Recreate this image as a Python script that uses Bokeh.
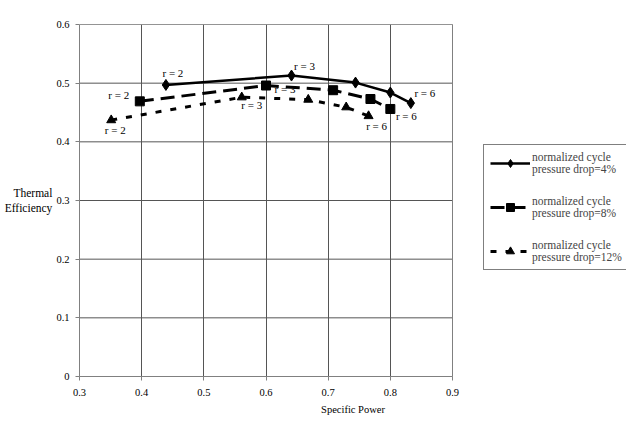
from bokeh.plotting import figure
from bokeh.models import (Range1d, FixedTicker, Label, Legend, LegendItem)
from bokeh.embed import file_html
from bokeh.resources import INLINE

# ---- data ----
sp_4 = [0.439, 0.641, 0.744, 0.800, 0.833]
eff_4 = [0.497, 0.513, 0.501, 0.484, 0.466]
sp_8 = [0.397, 0.600, 0.708, 0.768, 0.800]
eff_8 = [0.469, 0.496, 0.488, 0.473, 0.456]
sp_12 = [0.351, 0.561, 0.668, 0.729, 0.765]
eff_12 = [0.437, 0.476, 0.472, 0.459, 0.444]

series_names = ["normalized cycle\npressure drop=4%",
                "normalized cycle\npressure drop=8%",
                "normalized cycle\npressure drop=12%"]

x_ticks = [0.3, 0.4, 0.5, 0.6, 0.7, 0.8, 0.9]
x_tick_labels = ["0.3", "0.4", "0.5", "0.6", "0.7", "0.8", "0.9"]
y_ticks = [0, 0.1, 0.2, 0.3, 0.4, 0.5, 0.6]
y_tick_labels = ["0", "0.1", "0.2", "0.3", "0.4", "0.5", "0.6"]

r_labels = ["r = 2", "r = 3", "r = 6"]

FONT = "Liberation Serif"
X0, X1 = x_ticks[0], x_ticks[-1]
Y0, Y1 = y_ticks[0], y_ticks[-1]

# frame spans 79..626 px; plot area (0.3..0.9) spans 79..452 px
x_end = X0 + (626 - 79) / (452 - 79) * (X1 - X0)

p = figure(width=629, height=426, output_backend="svg", toolbar_location=None,
           x_range=Range1d(X0, x_end), y_range=Range1d(Y0, Y1),
           min_border_left=79, min_border_right=3, min_border_top=24,
           min_border_bottom=50)
p.background_fill_color = "white"
p.border_fill_color = "white"
p.outline_line_color = None

for ax in (p.xaxis[0], p.yaxis[0]):
    ax.major_label_text_font = FONT
    ax.major_label_text_font_size = "10.5px"
    ax.major_label_text_color = "black"
    ax.axis_line_color = "#808080"
    ax.major_tick_line_color = "#808080"
    ax.major_tick_out = 4
    ax.major_tick_in = 0
    ax.minor_tick_line_color = None
    ax.axis_label_text_font = FONT
    ax.axis_label_text_font_style = "normal"
    ax.axis_label_text_color = "black"

p.xaxis.bounds = (X0, X1)
p.xaxis.major_label_standoff = 8
p.yaxis.major_label_standoff = 6
p.xaxis.ticker = FixedTicker(ticks=x_ticks)
p.yaxis.ticker = FixedTicker(ticks=y_ticks)
p.xaxis.major_label_overrides = dict(zip(x_ticks, x_tick_labels))
p.yaxis.major_label_overrides = dict(zip(y_ticks, y_tick_labels))
p.xaxis.axis_label = "Specific Power"
p.xaxis.axis_label_text_font_size = "10.5px"
p.xaxis.axis_label_standoff = 5
p.yaxis.axis_label = "Thermal\nEfficiency"
p.yaxis.axis_label_text_font_size = "11.5px"
p.yaxis.axis_label_orientation = "horizontal"
p.yaxis.axis_label_standoff = 1

# grid: vertical lines via xgrid, horizontal lines drawn within the plot area
p.xgrid.ticker = FixedTicker(ticks=x_ticks)
p.xgrid.grid_line_color = "#555555"
p.ygrid.grid_line_color = None
p.segment(x0=[X0] * len(y_ticks), y0=y_ticks, x1=[X1] * len(y_ticks),
          y1=y_ticks, line_color="#555555", line_width=1)
# plot-area border (right and top)
p.segment(x0=[X1, X0], y0=[Y0, Y1], x1=[X1, X1], y1=[Y1, Y1],
          line_color="#808080", line_width=1)

# series
l1 = p.line(sp_4, eff_4, line_color="black", line_width=2.5)
m1 = p.scatter(sp_4, eff_4, marker="diamond", size=11, color="black")
l2 = p.line(sp_8, eff_8, line_color="black", line_width=3, line_dash="14 7")
m2 = p.scatter(sp_8, eff_8, marker="square", size=9, color="black")
l3 = p.line(sp_12, eff_12, line_color="black", line_width=3, line_dash="6 9")
m3 = p.scatter(sp_12, eff_12, marker="triangle", size=9, color="black")

def rlabel(x, y, txt, xo, yo):
    p.add_layout(Label(x=x, y=y, text=txt, x_offset=xo, y_offset=yo,
                       text_font=FONT, text_font_size="11px",
                       text_color="black", text_align="center",
                       text_baseline="middle"))

rlabel(sp_4[0], eff_4[0], r_labels[0], 7, 12)
rlabel(sp_4[1], eff_4[1], r_labels[1], 13, 10)
rlabel(sp_4[4], eff_4[4], r_labels[2], 14, 10)
rlabel(sp_8[0], eff_8[0], r_labels[0], -21, 6)
rlabel(sp_8[1], eff_8[1], r_labels[1], 19, -3)
rlabel(sp_8[4], eff_8[4], r_labels[2], 16, -7)
rlabel(sp_12[0], eff_12[0], r_labels[0], 4, -10)
rlabel(sp_12[1], eff_12[1], r_labels[1], 10, -8)
rlabel(sp_12[4], eff_12[4], r_labels[2], 8, -10)

legend = Legend(items=[LegendItem(label=series_names[0], renderers=[l1, m1]),
                       LegendItem(label=series_names[1], renderers=[l2, m2]),
                       LegendItem(label=series_names[2], renderers=[l3, m3])],
                location=(404, 106),
                label_text_font=FONT, label_text_font_size="11.5px",
                label_text_line_height=1.36,
                border_line_color="black", border_line_width=1,
                glyph_width=40, glyph_height=20, spacing=20,
                padding=6, margin=0, label_standoff=2,
                background_fill_alpha=1)
p.add_layout(legend, "center")

open("out.html", "w").write(file_html(p, INLINE))
